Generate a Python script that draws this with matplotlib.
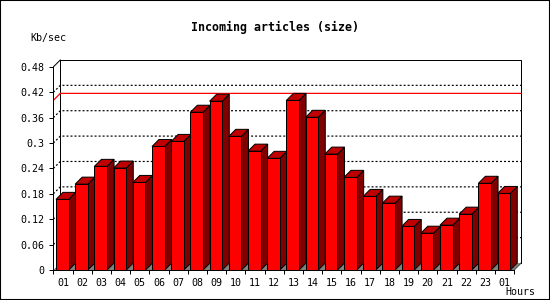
import matplotlib
matplotlib.use("Agg")
import matplotlib.pyplot as plt
from matplotlib.patches import Polygon, Rectangle

# data
hours = ["01", "02", "03", "04", "05", "06", "07", "08", "09", "10", "11", "12",
         "13", "14", "15", "16", "17", "18", "19", "20", "21", "22", "23", "01"]
kb_per_sec = [0.167, 0.203, 0.245, 0.241, 0.207, 0.292, 0.304, 0.373, 0.399, 0.316, 0.281, 0.264,
              0.401, 0.361, 0.274, 0.219, 0.174, 0.158, 0.103, 0.087, 0.106, 0.132, 0.205, 0.181]
y_ticks = [0, 0.06, 0.12, 0.18, 0.24, 0.3, 0.36, 0.42, 0.48]

W, H = 550, 300
PX_CAT = 19.2      # pixels per category
PX_VAL = 423.0     # pixels per unit value
DX = 7 / PX_CAT    # depth offset in data units
DY = 7 / PX_VAL
LW = 0.72          # one pixel at dpi 100

FRONT = "#ff0000"
SIDE = "#800000"
TOP = "#c00000"
FLOOR = "#808080"

plt.rcParams["font.family"] = "DejaVu Sans Mono"

fig = plt.figure(figsize=(W / 100, H / 100), dpi=100)
n = len(hours)
xmax = n + 0.6
ymax = 0.5
ax = fig.add_axes([53.3 / W, 30 / H, xmax * PX_CAT / W, ymax * PX_VAL / H])
ax.set_xlim(0, xmax)
ax.set_ylim(0, ymax)
ax.patch.set_visible(False)

for s in ["top", "right"]:
    ax.spines[s].set_visible(False)
ax.spines["left"].set_bounds(0, y_ticks[-1])
ax.spines["bottom"].set_bounds(0, n)
for s in ["left", "bottom"]:
    ax.spines[s].set_linewidth(LW)
    ax.spines[s].set_zorder(10)

ax.set_yticks(y_ticks)
ax.set_yticklabels(["%g" % v for v in y_ticks])
ax.set_xticks(range(n + 1))
ax.set_xticklabels([])
ax.set_xticks([i + 0.5 for i in range(n)], minor=True)
ax.set_xticklabels(hours, minor=True)
ax.tick_params(axis="both", which="major", length=3, width=LW, labelsize=7.2, pad=3.4)
ax.tick_params(axis="x", which="minor", length=0, labelsize=7.2, pad=6)

top = y_ticks[-1]
# back wall (no bottom edge)
ax.add_patch(Rectangle((DX, DY), n, top, facecolor="white", edgecolor="none", zorder=1))
ax.plot([DX, DX, n + DX, n + DX], [DY, top + DY, top + DY, DY], color="black", lw=LW, zorder=1)
# depth edges
ax.plot([0, DX], [top, top + DY], color="black", lw=LW, zorder=1)
ax.plot([n, n + DX], [0, DY], color="black", lw=LW, zorder=1)

# dotted gridlines on back wall
for v in y_ticks[1:-1]:
    ax.plot([0, DX, n + DX], [v, v + DY, v + DY], color="black", lw=0.85,
            linestyle=(0, (1.7, 1.7)), zorder=2)

# max line
top_val = max(kb_per_sec)
ax.plot([0, DX, n + DX], [top_val, top_val + DY, top_val + DY], color="red", lw=0.9, zorder=2)

# floor
ax.add_patch(Polygon([(0, 0), (n, 0), (n + DX, DY), (DX, DY)], closed=True,
                     facecolor=FLOOR, edgecolor="none", zorder=3))

# bars
off, bw = 0.14, 0.66
for i, v in enumerate(kb_per_sec):
    x0 = i + off
    x1 = x0 + bw
    ax.add_patch(Polygon([(x1, 0), (x1 + DX, DY), (x1 + DX, v + DY), (x1, v)],
                         facecolor=SIDE, edgecolor="black", linewidth=LW, zorder=4))
    ax.add_patch(Polygon([(x0, v), (x1, v), (x1 + DX, v + DY), (x0 + DX, v + DY)],
                         facecolor=TOP, edgecolor="black", linewidth=LW, zorder=4))
    ax.add_patch(Rectangle((x0, 0), bw, v, facecolor=FRONT, edgecolor="black",
                           linewidth=LW, zorder=5))

fig.text(275 / W, 1 - 27 / H, "Incoming articles (size)", ha="center", va="center",
         fontsize=8.4, fontweight="bold")
fig.text(30 / W, 1 - 38 / H, "Kb/sec", ha="left", va="center", fontsize=7.2)
fig.text(535 / W, 1 - 292 / H, "Hours", ha="right", va="center", fontsize=7.2)

fig.patches.append(Rectangle((0, 0), 1, 1, transform=fig.transFigure, fill=False,
                             edgecolor="black", linewidth=1.5))

fig.savefig("out.png", dpi=100)
